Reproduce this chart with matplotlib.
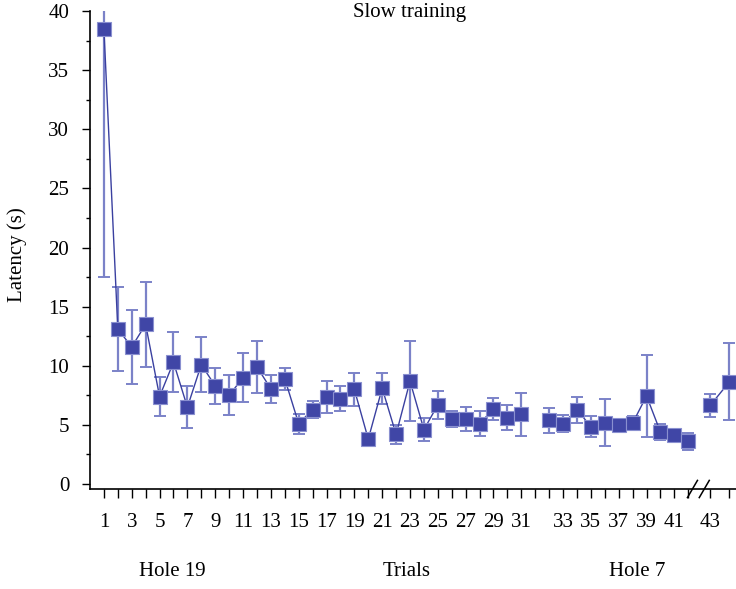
import numpy as np
import matplotlib
matplotlib.use("Agg")
import matplotlib.pyplot as plt
from matplotlib.transforms import blended_transform_factory

# --- Data ---
trials = np.arange(1, 45)
latency = [38.5, 13.1, 11.6, 13.5, 7.4, 10.3, 6.5, 10.1, 8.3, 7.5,
           9.0, 9.9, 8.05, 8.9, 5.1, 6.3, 7.35, 7.2, 8.0, 3.8,
           8.1, 4.2, 8.7, 4.6, 6.7, 5.5, 5.5, 5.1, 6.35, 5.6,
           5.9, 5.4, 5.1, 6.3, 4.85, 5.2, 5.0, 5.15, 7.45, 4.4,
           4.15, 3.6, 6.65, 8.65]
sem = [21.0, 3.55, 3.15, 3.6, 1.65, 2.55, 1.75, 2.35, 1.5, 1.7,
       2.1, 2.2, 1.2, 0.95, 0.85, 0.75, 1.35, 1.05, 1.4, 0.5,
       1.3, 0.8, 3.4, 1.0, 1.2, 0.65, 1.05, 1.05, 0.9, 1.05,
       1.8, 1.05, 0.7, 1.1, 0.9, 1.95, 0.3, 0.6, 3.45, 0.7,
       0.35, 0.7, 0.95, 3.25]
tick_labels = ["1", "3", "5", "7", "9", "11", "13", "15", "17", "19", "21",
               "23", "25", "27", "29", "31", "33", "35", "37", "39", "41", "43"]
group_labels = ["Hole 19", "Trials", "Hole 7"]

MARK = "#4046A6"
EDGE = "#8A90D0"
ERR = "#7B82C8"
LINE = "#3A40A0"

plt.rcParams.update({
    "font.family": ["Liberation Serif", "DejaVu Serif"],
    "font.size": 15,
})

# x position: empty slot after trial 31, axis break after trial 42
def xpos(t):
    if t <= 31:
        return float(t)
    if t <= 42:
        return t + 1.0
    return 44.58 + (t - 43) * 1.38

x = np.array([xpos(t) for t in trials])
y = np.array(latency)
e = np.array(sem)

fig = plt.figure(figsize=(7.36, 5.89), dpi=100)
ax = fig.add_axes([90 / 736, 1 - 489 / 589, 646 / 736, 478 / 589])

segments = [(1, 31), (32, 42), (43, 44)]
for a, b in segments:
    m = (trials >= a) & (trials <= b)
    ax.plot(x[m], y[m], color=LINE, lw=1.0, zorder=2)

ax.errorbar(x, y, yerr=e, fmt="none", ecolor=ERR, elinewidth=1.6,
            capsize=4.5, capthick=1.4, zorder=1)
ax.plot(x, y, ls="none", marker="s", ms=10, mfc=MARK, mec=EDGE,
        mew=0.8, zorder=3)

ax.set_xlim(0, 46.43)
ax.set_ylim(-0.42, 40)

# ticks
tick_pos = list(np.arange(1, 44)) + [xpos(43), xpos(44)]
ax.set_xticks(tick_pos)
lab_pos = [xpos(t) for t in range(1, 32, 2)] + [xpos(t) for t in range(33, 42, 2)] + [xpos(43)]
lab_map = {round(p, 2): l for p, l in zip(lab_pos, tick_labels)}
ax.set_xticklabels([lab_map.get(round(p, 2), "") for p in tick_pos])
ax.tick_params(axis="x", direction="out", length=6.5, width=1.0, pad=11)

ax.set_yticks(np.arange(0, 41, 5))
ax.set_yticks(np.arange(2.5, 40, 5), minor=True)
ax.tick_params(axis="y", which="major", direction="out", length=6, width=1.0, pad=9)
ax.tick_params(axis="y", which="minor", direction="out", length=3, width=1.0)

for s in ["top", "right"]:
    ax.spines[s].set_visible(False)
for s in ["left", "bottom"]:
    ax.spines[s].set_linewidth(1.2)

# axis break marks
tr = blended_transform_factory(ax.transData, ax.transAxes)
for x0 in [43.3, 44.15]:
    ax.plot([x0 - 0.36, x0 + 0.36], [-0.018, 0.018], color="black", lw=1.1,
            transform=tr, clip_on=False, zorder=5)

ax.set_ylabel("Latency (s)")
ax.yaxis.set_label_coords(-0.097, 0.49)

fig.text(410 / 736, 1 - 12 / 589, "Slow training", ha="center", va="center")
for xp, lab in zip([172, 407, 637], group_labels):
    fig.text(xp / 736, 1 - 572 / 589, lab, ha="center", va="center")

fig.savefig("out.png", dpi=100)
